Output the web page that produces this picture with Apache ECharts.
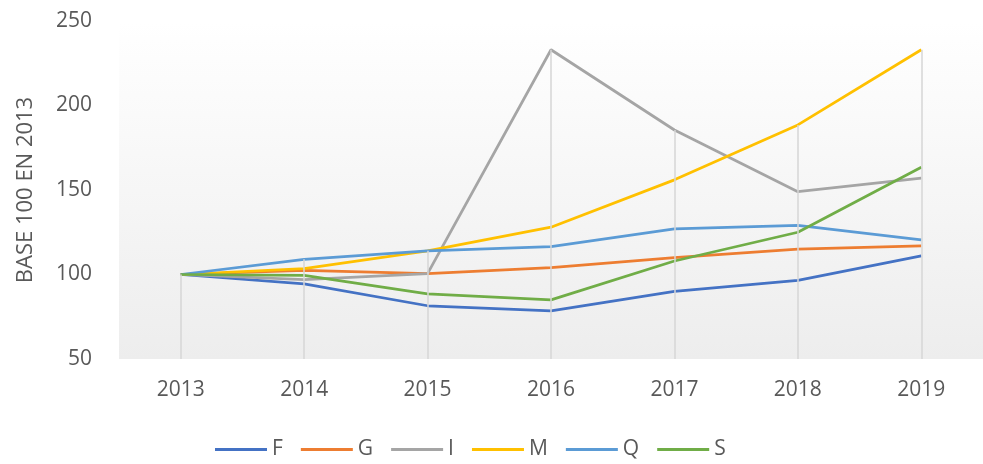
<!DOCTYPE html>
<html>
<head>
<meta charset="utf-8">
<script src="https://cdn.jsdelivr.net/npm/echarts@6/dist/echarts.min.js"></script>
<style>html,body{margin:0;padding:0;background:#fff;}#c{width:983px;height:464px;}</style>
</head>
<body>
<div id="c"></div>
<script>
var years = ['2013','2014','2015','2016','2017','2018','2019'];
var F = [100, 94.5, 81.5, 78.5, 90, 96.5, 111];
var G = [100, 102.5, 100.5, 104, 110, 115, 117];
var I = [100, 97, 100.5, 233, 185.5, 149, 157];
var M = [100, 103.5, 114, 128, 156, 188.5, 233];
var Q = [100, 109, 114, 116.5, 127, 129, 120.5];
var S = [100, 99.5, 88.5, 85, 108, 125, 163.5];
var yTicks = [50, 100, 150, 200, 250];
var yTitle = 'BASE 100 EN 2013';

var names = ['F','G','I','M','Q','S'];
var values = [F, G, I, M, Q, S];
var colors = ['#4472C4','#ED7D31','#A5A5A5','#FFC000','#5B9BD5','#70AD47'];
var font = 'Open Sans';
var txt = '#595959';

var dropLines = years.map(function (y, i) {
  var mx = Math.max.apply(null, values.map(function (v) { return v[i]; }));
  return [{ coord: [y, mx] }, { coord: [y, yTicks[0]] }];
});

var series = [{
  name: '_drop', type: 'line', data: [], z: 1, silent: true,
  markLine: { silent: true, symbol: ['none','none'], label: { show: false },
    lineStyle: { color: '#d6d6d6', width: 1.5, type: 'solid' }, data: dropLines }
}];
names.forEach(function (n, k) {
  series.push({
    name: n, type: 'line', data: values[k], z: 3, symbol: 'none',
    lineStyle: { color: colors[k], width: 2.75 }, itemStyle: { color: colors[k] }
  });
});

var chart = echarts.init(document.getElementById('c'));
chart.setOption({
  animation: false,
  textStyle: { fontFamily: font },
  grid: {
    left: 119, right: -7, top: 21, bottom: 105, show: true, borderWidth: 0,
    backgroundColor: new echarts.graphic.LinearGradient(0, 0, 0, 1, [
      { offset: 0, color: '#ffffff' }, { offset: 1, color: '#ededed' }
    ])
  },
  xAxis: {
    type: 'category', data: years, boundaryGap: true,
    axisLine: { show: false }, axisTick: { show: false }, splitLine: { show: false },
    axisLabel: { color: txt, fontSize: 21, margin: 21, fontFamily: font }
  },
  yAxis: {
    type: 'value', min: yTicks[0], max: yTicks[yTicks.length - 1], interval: 50,
    axisLine: { show: false }, axisTick: { show: false }, splitLine: { show: false },
    axisLabel: { color: txt, fontSize: 21, margin: 27, fontFamily: font },
    name: yTitle, nameLocation: 'middle', nameGap: 82, nameRotate: 90,
    nameTextStyle: { color: txt, fontSize: 22, fontFamily: font }
  },
  legend: {
    data: names, left: 210, top: 434, itemWidth: 52, itemHeight: 3, itemGap: 18,
    icon: 'rect', textStyle: { color: txt, fontSize: 21, fontFamily: font }
  },
  series: series
});
</script>
</body>
</html>
